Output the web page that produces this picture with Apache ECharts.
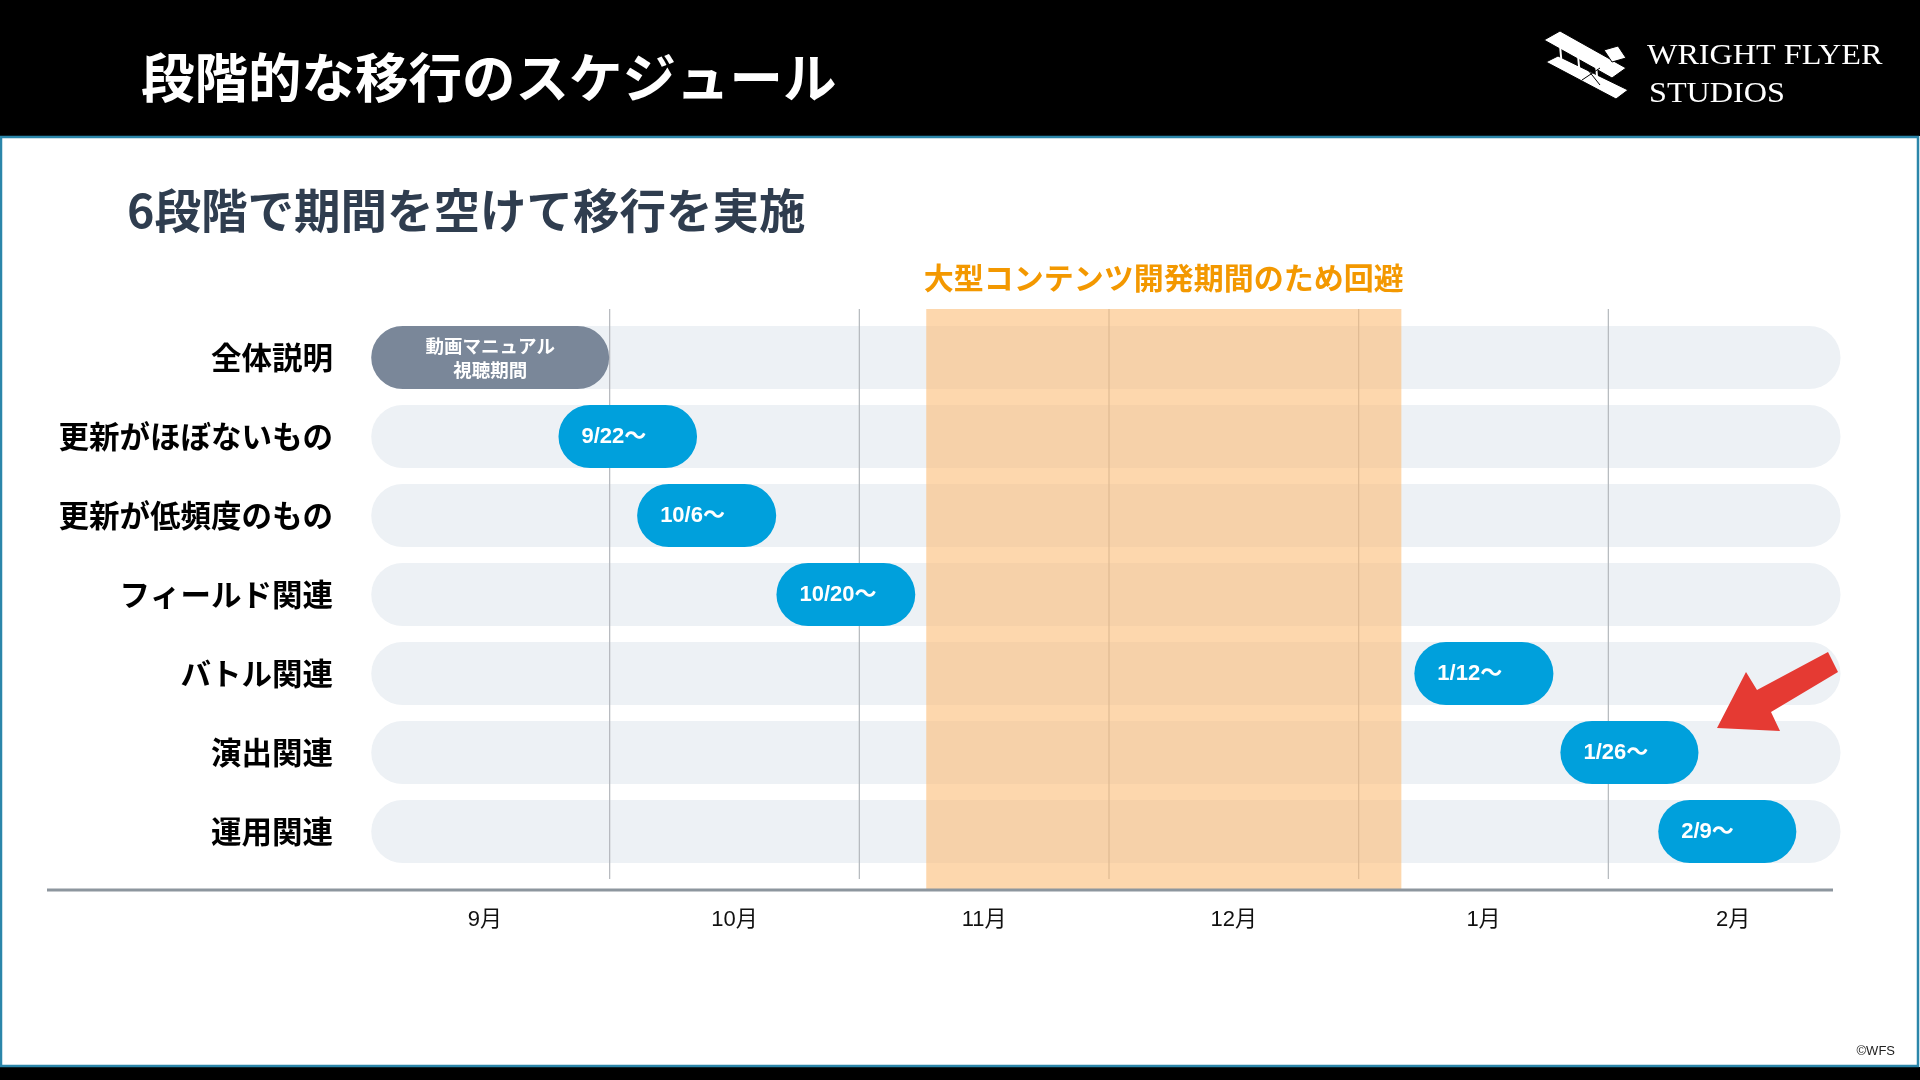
<!DOCTYPE html>
<html lang="ja">
<head>
<meta charset="utf-8">
<title>段階的な移行のスケジュール</title>
<script src="https://cdn.jsdelivr.net/npm/echarts@6/dist/echarts.min.js"></script>
<style>
  html, body { margin: 0; padding: 0; background: #fff; }
  #chart { width: 1920px; height: 1080px; }
</style>
</head>
<body>
<div id="chart"></div>
<script>
// rows of the schedule, top to bottom
const rows = ['全体説明', '更新がほぼないもの', '更新が低頻度のもの', 'フィールド関連', 'バトル関連', '演出関連', '運用関連'];
const months = ['9月', '10月', '11月', '12月', '1月', '2月'];

// x values are in months, 0 = start of September
const taskStart = [0.045, 0.795, 1.11, 1.668, 4.223, 4.808, 5.2];
const taskEnd = [0.998, 1.35, 1.667, 2.224, 4.78, 5.361, 5.753];
const taskLabels = ['動画マニュアル\n視聴期間', '9/22～', '10/6～', '10/20～', '1/12～', '1/26～', '2/9～'];
const taskKind = ['view', 'move', 'move', 'move', 'move', 'move', 'move'];

const trackRange = [0.045, 5.93];
const monthBoundaries = [1, 2, 3, 4, 5];
const avoidRange = [2.268, 4.171];
const avoidLabel = '大型コンテンツ開発期間のため回避';

const CJK = '"Noto Sans CJK JP", "Noto Sans", sans-serif';
const LATIN = '"Liberation Sans", Arial, "Noto Sans CJK JP", sans-serif';
const SERIF = '"Liberation Serif", "DejaVu Serif", serif';
const BAR_RATIO = 0.8;
const BLUE = '#00a0dc';
const GRAY = '#7a8799';

const chart = echarts.init(document.getElementById('chart'));

const renderTrack = (params, api) => {
  const row = api.value(0);
  const a = api.coord([api.value(1), row]);
  const b = api.coord([api.value(2), row]);
  const h = api.size([0, 1])[1] * BAR_RATIO;
  return {
    type: 'rect',
    shape: { x: a[0], y: a[1] - h / 2, width: b[0] - a[0], height: h, r: h / 2 },
    style: { fill: '#edf1f5' }
  };
};

const renderGridLine = (params, api) => {
  const x = api.coord([api.value(0), 0])[0];
  const cs = params.coordSys;
  return {
    type: 'line',
    shape: { x1: x, y1: cs.y - 9, x2: x, y2: cs.y + cs.height + 8 },
    style: { stroke: '#b3b7bc', lineWidth: 1.2 }
  };
};

const renderBand = (params, api) => {
  const a = api.coord([api.value(0), 0]);
  const b = api.coord([api.value(1), 0]);
  const cs = params.coordSys;
  const top = cs.y - 9;
  return {
    type: 'group',
    children: [
      {
        type: 'rect',
        shape: { x: a[0], y: top, width: b[0] - a[0], height: cs.height + 28 },
        style: { fill: 'rgba(252, 188, 118, 0.6)' }
      },
      {
        type: 'text',
        style: {
          x: (a[0] + b[0]) / 2, y: top - 31,
          text: avoidLabel,
          fill: '#f39800',
          font: 'bold 30px ' + CJK,
          align: 'center', verticalAlign: 'middle'
        }
      }
    ]
  };
};

const renderTask = (params, api) => {
  const i = params.dataIndex;
  const row = api.value(0);
  const a = api.coord([api.value(1), row]);
  const b = api.coord([api.value(2), row]);
  const h = api.size([0, 1])[1] * BAR_RATIO;
  const isView = taskKind[i] === 'view';
  return {
    type: 'group',
    children: [
      {
        type: 'rect',
        shape: { x: a[0], y: a[1] - h / 2, width: b[0] - a[0], height: h, r: h / 2 },
        style: { fill: isView ? GRAY : BLUE }
      },
      {
        type: 'text',
        style: isView ? {
          x: (a[0] + b[0]) / 2, y: a[1],
          text: taskLabels[i], fill: '#fff',
          font: 'bold 18.5px ' + CJK, lineHeight: 24,
          align: 'center', verticalAlign: 'middle'
        } : {
          x: a[0] + 23, y: a[1],
          text: taskLabels[i], fill: '#fff',
          font: 'bold 22px ' + LATIN,
          align: 'left', verticalAlign: 'middle'
        }
      }
    ]
  };
};

const option = {
  backgroundColor: '#fff',
  animation: false,
  grid: { left: 360, right: 62, top: 318, bottom: 209 },
  xAxis: [
    {
      type: 'value', min: 0, max: 6, interval: 1,
      axisLine: { show: false }, axisTick: { show: false },
      axisLabel: { show: false }, splitLine: { show: false }
    },
    {
      type: 'category', data: months, position: 'bottom',
      axisLine: { show: false }, axisTick: { show: false },
      axisLabel: { color: '#111', fontSize: 22, fontFamily: LATIN, margin: 38 }
    }
  ],
  yAxis: {
    type: 'category', data: rows, inverse: true,
    axisLine: { show: false }, axisTick: { show: false },
    axisLabel: { color: '#000', fontSize: 30.5, fontWeight: 'bold', fontFamily: CJK, margin: 27 }
  },
  series: [
    {
      type: 'custom', name: 'track', z: 1,
      renderItem: renderTrack,
      encode: { x: [1, 2], y: 0 },
      data: rows.map((r, i) => [i, trackRange[0], trackRange[1]])
    },
    {
      type: 'custom', name: 'months', z: 2,
      renderItem: renderGridLine,
      encode: { x: 0, y: 1 },
      data: monthBoundaries.map(v => [v, 0])
    },
    {
      type: 'custom', name: 'avoid', z: 3,
      renderItem: renderBand,
      encode: { x: [0, 1], y: 2 },
      data: [[avoidRange[0], avoidRange[1], 0]]
    },
    {
      type: 'custom', name: 'tasks', z: 4,
      renderItem: renderTask,
      encode: { x: [1, 2], y: 0 },
      data: taskLabels.map((t, i) => [i, taskStart[i], taskEnd[i]])
    }
  ],
  graphic: [
    // slide header and frame
    { type: 'rect', z: 0, shape: { x: 0, y: 0, width: 1920, height: 136 }, style: { fill: '#000' } },
    { type: 'rect', z: 0, shape: { x: 0, y: 1067, width: 1920, height: 13 }, style: { fill: '#000' } },
    { type: 'rect', z: 10, shape: { x: 1, y: 137, width: 1917, height: 929 }, style: { fill: 'none', stroke: '#2b86aa', lineWidth: 2.5 } },
    {
      type: 'text', z: 10,
      style: { x: 141, y: 78, text: '段階的な移行のスケジュール', fill: '#fff', font: 'bold 53.5px ' + CJK, verticalAlign: 'middle' }
    },
    {
      type: 'text', z: 10, x: 1647, y: 56, scaleX: 1.11,
      style: { x: 0, y: 0, text: 'WRIGHT FLYER', fill: '#fff', font: '29px ' + SERIF, verticalAlign: 'middle' }
    },
    {
      type: 'text', z: 10, x: 1649, y: 94, scaleX: 1.11,
      style: { x: 0, y: 0, text: 'STUDIOS', fill: '#fff', font: '29px ' + SERIF, verticalAlign: 'middle' }
    },
    // rough biplane mark
    {
      type: 'group', z: 10,
      children: [
        { type: 'polygon', shape: { points: [[1546, 62], [1558, 56], [1628, 90], [1616, 99]] }, style: { fill: '#fff', stroke: '#000', lineWidth: 1 } },
        { type: 'polygon', shape: { points: [[1544, 40], [1560, 31], [1626, 68], [1612, 78]] }, style: { fill: '#fff', stroke: '#000', lineWidth: 1 } },
        { type: 'polygon', shape: { points: [[1604, 50], [1618, 46], [1626, 58], [1612, 62]] }, style: { fill: '#fff', stroke: '#000', lineWidth: 1 } },
        { type: 'line', shape: { x1: 1560, y1: 45, x2: 1562, y2: 68 }, style: { stroke: '#fff', lineWidth: 2 } },
        { type: 'line', shape: { x1: 1578, y1: 55, x2: 1580, y2: 78 }, style: { stroke: '#fff', lineWidth: 2 } },
        { type: 'line', shape: { x1: 1596, y1: 65, x2: 1598, y2: 88 }, style: { stroke: '#fff', lineWidth: 2 } },
        { type: 'line', shape: { x1: 1580, y1: 60, x2: 1600, y2: 85 }, style: { stroke: '#000', lineWidth: 1 } },
        { type: 'line', shape: { x1: 1600, y1: 68, x2: 1582, y2: 80 }, style: { stroke: '#000', lineWidth: 1 } }
      ]
    },
    {
      type: 'text', z: 10,
      style: { x: 127, y: 210, text: '6段階で期間を空けて移行を実施', fill: '#2f3d4f', font: 'bold 46.5px ' + CJK, verticalAlign: 'middle' }
    },
    // baseline under the schedule
    { type: 'line', z: 5, shape: { x1: 47, y1: 890, x2: 1833, y2: 890 }, style: { stroke: '#8d969e', lineWidth: 3 } },
    // red pointer arrow
    {
      type: 'polygon', z: 6,
      shape: { points: [[1717, 728], [1780, 731], [1771, 712], [1838, 672], [1828, 652], [1757, 690], [1746, 672]] },
      style: { fill: '#e53a33' }
    },
    {
      type: 'text', z: 10,
      style: { x: 1895, y: 1051, text: '©WFS', fill: '#222', font: '13px ' + LATIN, align: 'right', verticalAlign: 'middle' }
    }
  ]
};

chart.setOption(option);
</script>
</body>
</html>
